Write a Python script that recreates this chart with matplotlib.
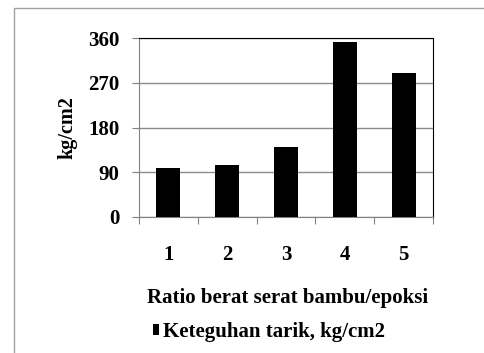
import numpy as np
import matplotlib.pyplot as plt
from matplotlib.patches import Rectangle

# data
categories = ["1", "2", "3", "4", "5"]
values = [99, 105, 141, 351, 290]
y_ticks = [0, 90, 180, 270, 360]

plt.rcParams["font.family"] = ["Liberation Serif", "DejaVu Serif"]
plt.rcParams["font.weight"] = "bold"

W, H = 485, 353
fig = plt.figure(figsize=(W / 100, H / 100), dpi=100)

# outer chart frame (clipped at right and bottom like the reference)
fig.patches.append(Rectangle((14 / W, -0.1), 1.2, 1.1 - 8 / H, transform=fig.transFigure,
                             fill=False, edgecolor="#a0a0a0", linewidth=1.0))

ax = fig.add_axes([139 / W, 1 - 217 / H, (433 - 139) / W, (217 - 38) / H])
x = np.arange(len(categories))
ax.bar(x, values, width=0.41, color="black", zorder=3, label="Keteguhan tarik, kg/cm2")

ax.set_xlim(-0.5, len(categories) - 0.5)
ax.set_ylim(0, 360)
ax.set_yticks(y_ticks)
ax.set_yticklabels([str(v) for v in y_ticks], fontsize=15, fontweight="bold")
ax.yaxis.grid(True, color="#8c8c8c", linewidth=1.0, zorder=0)

ax.set_xticks(np.arange(-0.5, len(categories), 1.0))
ax.set_xticklabels([])
ax.set_xticks(x, minor=True)
ax.set_xticklabels(categories, minor=True, fontsize=15, fontweight="bold")
ax.tick_params(axis="x", which="major", direction="out", length=5, color="#808080")
ax.tick_params(axis="x", which="minor", length=0, pad=20)
ax.tick_params(axis="y", direction="out", length=5, color="#808080", pad=9)

for side in ["top", "right"]:
    ax.spines[side].set_color("black")
for side in ["left", "bottom"]:
    ax.spines[side].set_color("#808080")

ax.set_ylabel("kg/cm2", fontsize=14.5, fontweight="bold", labelpad=8)
fig.text(288 / W, 1 - 298 / H, "Ratio berat serat bambu/epoksi", ha="center", va="center",
         fontsize=15, fontweight="bold")

ax.legend(loc="center left", bbox_to_anchor=(153 / W, 1 - 332 / H), bbox_transform=fig.transFigure,
          frameon=False, borderpad=0, borderaxespad=0, handlelength=0.29, handleheight=0.48,
          handletextpad=0.2, prop={"weight": "bold", "size": 15})

fig.savefig("out.png", dpi=100)
